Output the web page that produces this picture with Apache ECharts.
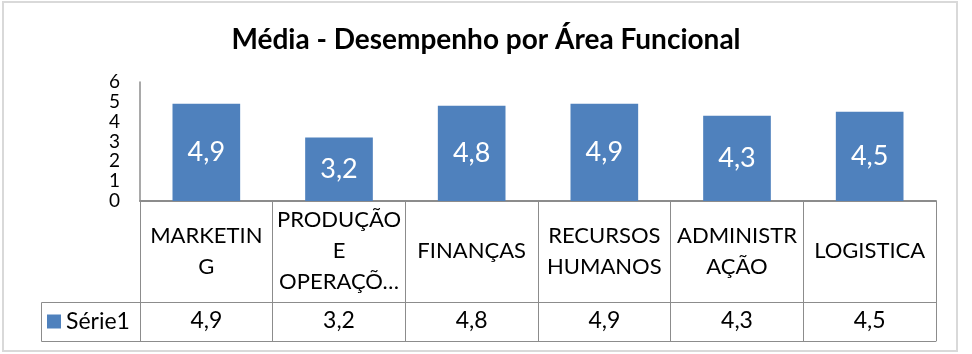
<!DOCTYPE html>
<html>
<head>
<meta charset="utf-8">
<script src="https://cdn.jsdelivr.net/npm/echarts@6/dist/echarts.min.js"></script>
<style>
  html, body { margin: 0; padding: 0; background: #fff; }
  #chart { width: 972px; height: 354px; }
</style>
</head>
<body>
<div id="chart"></div>
<script>
// dados do gráfico
const categorias = ['MARKETIN\nG', 'PRODUÇÃO\nE\nOPERAÇÕ…', 'FINANÇAS', 'RECURSOS\nHUMANOS', 'ADMINISTR\nAÇÃO', 'LOGISTICA'];
const serie1 = [4.9, 3.2, 4.8, 4.9, 4.3, 4.5];
const nomeSerie = 'Série1';
const titulo = 'Média - Desempenho por Área Funcional';

const fmt = v => String(v).replace('.', ',');
const corLinha = '#8c8c8c';
const fonte = 'Lato, "Noto Sans", sans-serif';

const chart = echarts.init(document.getElementById('chart'));

chart.setOption({
  animation: false,
  backgroundColor: '#fff',
  textStyle: { fontFamily: fonte, color: '#000' },
  title: {
    text: titulo,
    left: 'center',
    top: 21,
    textStyle: { fontFamily: fonte, fontSize: 28, fontWeight: 'bold', color: '#000' }
  },
  legend: {
    left: 47,
    top: 310,
    padding: 0,
    itemWidth: 14,
    itemHeight: 14,
    itemGap: 6,
    icon: 'rect',
    data: [nomeSerie],
    textStyle: { fontSize: 23, color: '#000' },
    selectedMode: false
  },
  grid: { left: 140, right: 36, top: 82, bottom: 153 },
  xAxis: [
    {
      type: 'category',
      data: categorias,
      position: 'bottom',
      axisLine: { lineStyle: { color: corLinha, width: 2 } },
      axisTick: { show: true, interval: 0, length: 101, lineStyle: { color: corLinha, width: 1 } },
      axisLabel: {
        interval: 0,
        fontSize: 22,
        lineHeight: 31,
        color: '#000',
        margin: 50,
        verticalAlign: 'middle',
        align: 'center'
      }
    },
    {
      type: 'category',
      data: categorias,
      position: 'bottom',
      offset: 101,
      axisLine: { lineStyle: { color: corLinha, width: 1 } },
      axisTick: { show: true, interval: 0, length: 39, lineStyle: { color: corLinha, width: 1 } },
      axisLabel: {
        interval: 0,
        fontSize: 23,
        color: '#000',
        margin: 19,
        verticalAlign: 'middle',
        formatter: (v, i) => fmt(serie1[i])
      }
    },
    {
      type: 'category',
      data: categorias,
      position: 'bottom',
      offset: 140,
      axisLine: { lineStyle: { color: corLinha, width: 1 } },
      axisTick: { show: false },
      axisLabel: { show: false }
    }
  ],
  yAxis: {
    type: 'value',
    min: 0,
    max: 6,
    interval: 1,
    axisLine: { show: true, lineStyle: { color: corLinha, width: 1.5 } },
    axisTick: { show: false },
    splitLine: { show: false },
    axisLabel: { fontSize: 19, color: '#000', margin: 20 }
  },
  series: [
    {
      name: nomeSerie,
      type: 'bar',
      data: serie1,
      barWidth: '51%',
      itemStyle: { color: '#4f81bd' },
      label: {
        show: true,
        position: 'inside',
        color: '#fff',
        fontSize: 27,
        formatter: p => fmt(p.value)
      }
    }
  ],
  graphic: [
    // borda externa do gráfico
    {
      type: 'rect',
      shape: { x: 3, y: 2, width: 954, height: 349 },
      style: { fill: 'none', stroke: '#d9d9d9', lineWidth: 2 },
      silent: true
    },
    // célula da legenda na tabela de dados
    {
      type: 'rect',
      shape: { x: 41.5, y: 302.5, width: 99, height: 39 },
      style: { fill: 'none', stroke: corLinha, lineWidth: 1 },
      silent: true
    }
  ]
});
</script>
</body>
</html>
